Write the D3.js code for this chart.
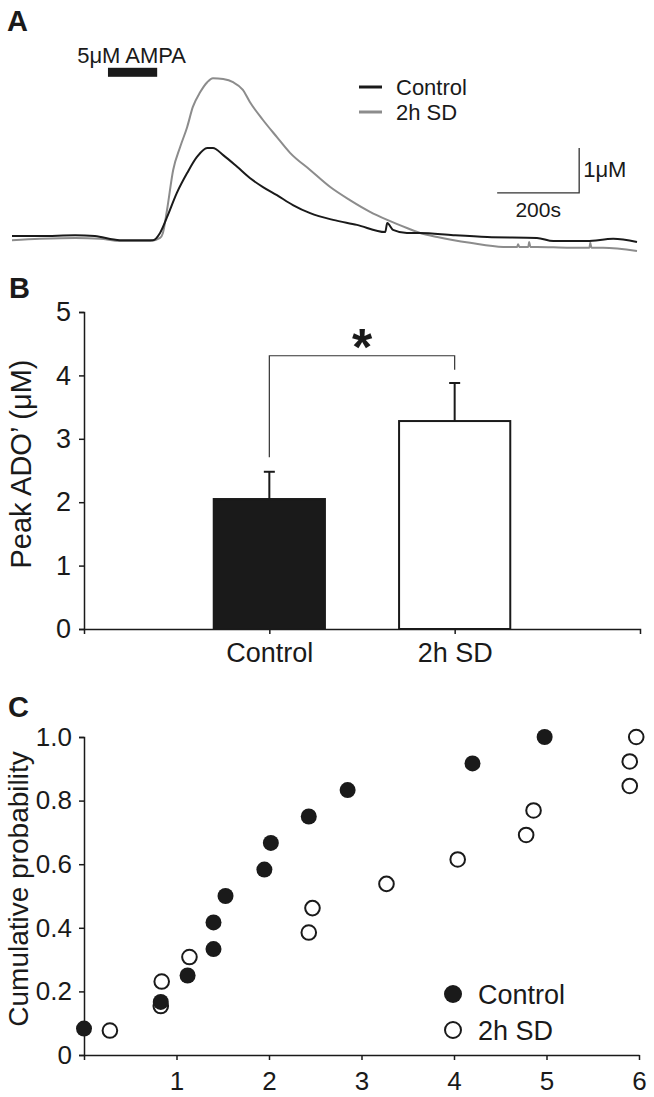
<!DOCTYPE html>
<html><head><meta charset="utf-8">
<script src="https://cdn.jsdelivr.net/npm/d3@7"></script>
<style>
body{margin:0;background:#fff}
svg{display:block}
text{font-family:"Liberation Sans",Arial,Helvetica,sans-serif;fill:#1a1a1a}
</style>
</head><body>
<svg id="chart" width="654" height="1097"></svg>
<script>
// ---------- Panel A: adenosine traces (time in s, concentration in uM) ----------
const controlTime  = [0,68,154,202,263,344,361,378,402,427,451,476,490,515,549,580,612,646,685,727,783,841,910,915,929,963,995,1076,1159,1280,1320,1402,1466,1524];
const controlTrace = [0.02,0.02,0.04,0.02,-0.07,-0.07,0.09,0.44,0.98,1.42,1.78,1.98,1.98,1.82,1.56,1.31,1.11,0.93,0.71,0.53,0.38,0.27,0.11,0.31,0.16,0.09,0.09,0.04,0,-0.02,-0.09,-0.09,-0.04,-0.11];
const sdTime  = [0,68,154,215,263,337,361,368,378,393,410,427,441,459,476,490,515,539,563,580,612,646,678,727,776,824,873,915,963,995,1037,1117,1198,1232,1234,1237,1259,1261,1264,1280,1361,1408,1410,1413,1441,1524];
const sdTrace = [-0.07,-0.04,-0.02,-0.04,-0.09,-0.09,-0.02,0.09,0.6,1.49,2.0,2.44,2.89,3.22,3.44,3.53,3.51,3.44,3.27,3.0,2.6,2.22,1.87,1.49,1.11,0.82,0.56,0.38,0.2,0.09,0,-0.13,-0.22,-0.22,-0.16,-0.22,-0.22,-0.11,-0.22,-0.22,-0.24,-0.24,-0.13,-0.24,-0.24,-0.31];
const ampaWindow = [234, 354];       // s
const ampaLevel = 3.66;              // uM (bar position)
const scaleBarTime = 200;            // s
const scaleBarConc = 1;              // uM
const scaleBarCorner = [1383, 0.98]; // (s, uM)
const traceNames = ["Control", "2h SD"];

// ---------- Panel B: bars ----------
const barCategories = ["Control", "2h SD"];
const barMeans = [2.05, 3.28];
const barErrors = [0.43, 0.60];
const barTicks = [0, 1, 2, 3, 4, 5];
const bracketLevel = 4.31;
const bracketEnds = [2.71, 4.09];

// ---------- Panel C: cumulative probability ----------
const ctrlX = [0, 0.83, 1.12, 1.40, 1.40, 1.53, 1.95, 2.02, 2.43, 2.85, 4.20, 4.98];
const ctrlP = [0.083, 0.167, 0.25, 0.333, 0.417, 0.5, 0.583, 0.667, 0.75, 0.833, 0.917, 1.0];
const sdX = [0.28, 0.83, 0.84, 1.14, 2.43, 2.47, 3.27, 4.04, 4.78, 4.86, 5.90, 5.90, 5.97];
const sdP = [0.077, 0.154, 0.231, 0.308, 0.385, 0.462, 0.538, 0.615, 0.692, 0.769, 0.846, 0.923, 1.0];
const cdfXTicks = [0, 1, 2, 3, 4, 5, 6];
const cdfYTicks = [0, 0.2, 0.4, 0.6, 0.8, 1.0];

const svg = d3.select("#chart");
const INK = "#1a1a1a", GRAY = "#8c8c8c";

function label(t, x, y) {
  svg.append("text").attr("x", x).attr("y", y).attr("font-size", 29).attr("font-weight", "bold").text(t);
}
label("A", 7, 31); label("B", 9, 298); label("C", 8, 717);

// ===== Panel A =====
const xA = d3.scaleLinear().domain([0, 1524]).range([12, 637]);
const yA = d3.scaleLinear().domain([0, 1]).range([237, 192]);
const lineA = d3.line().x(d => xA(d[0])).y(d => yA(d[1])).curve(d3.curveMonotoneX);
const gA = svg.append("g");
gA.append("path").datum(sdTime.map((t, i) => [t, sdTrace[i]]))
  .attr("d", lineA).attr("fill", "none").attr("stroke", GRAY).attr("stroke-width", 2);
gA.append("path").datum(controlTime.map((t, i) => [t, controlTrace[i]]))
  .attr("d", lineA).attr("fill", "none").attr("stroke", INK).attr("stroke-width", 2);
// AMPA bar
gA.append("rect").attr("x", xA(ampaWindow[0])).attr("width", xA(ampaWindow[1]) - xA(ampaWindow[0]))
  .attr("y", yA(ampaLevel) - 4.5).attr("height", 9).attr("fill", INK);
gA.append("text").attr("x", (xA(ampaWindow[0]) + xA(ampaWindow[1])) / 2 - 1).attr("y", 63)
  .attr("text-anchor", "middle").attr("font-size", 22).text("5\u03BCM AMPA");
// legend
[INK, GRAY].forEach((c, i) => {
  const y = 87 + i * 25;
  gA.append("line").attr("x1", 359).attr("x2", 382).attr("y1", y).attr("y2", y).attr("stroke", c).attr("stroke-width", 3);
  gA.append("text").attr("x", 396).attr("y", y + 8).attr("font-size", 22).text(traceNames[i]);
});
// scale bars
const cx = xA(scaleBarCorner[0]), cy = yA(scaleBarCorner[1]);
gA.append("path").attr("d", `M${xA(scaleBarCorner[0] - scaleBarTime)},${cy}H${cx}V${yA(scaleBarCorner[1] + scaleBarConc)}`)
  .attr("fill", "none").attr("stroke", "#333").attr("stroke-width", 1.3);
gA.append("text").attr("x", cx + 4).attr("y", 177).attr("font-size", 22).text("1\u03BCM");
gA.append("text").attr("x", (xA(scaleBarCorner[0] - scaleBarTime) + cx) / 2).attr("y", 217)
  .attr("text-anchor", "middle").attr("font-size", 21).text("200s");

// ===== Panel B =====
const xB = d3.scalePoint().domain(barCategories).range([84, 640]).padding(1);
const yB = d3.scaleLinear().domain([0, 5]).range([629, 312]);
const gB = svg.append("g");
const bw = xB.step() * 0.6;
barCategories.forEach((c, i) => {
  const x = xB(c);
  gB.append("line").attr("x1", x).attr("x2", x).attr("y1", yB(barMeans[i])).attr("y2", yB(barMeans[i] + barErrors[i]))
    .attr("stroke", INK).attr("stroke-width", 2);
  gB.append("line").attr("x1", x - 5.5).attr("x2", x + 5.5).attr("y1", yB(barMeans[i] + barErrors[i])).attr("y2", yB(barMeans[i] + barErrors[i]))
    .attr("stroke", INK).attr("stroke-width", 2);
  gB.append("rect").attr("x", x - bw / 2).attr("width", bw).attr("y", yB(barMeans[i])).attr("height", yB(0) - yB(barMeans[i]))
    .attr("fill", i === 0 ? INK : "#fff").attr("stroke", INK).attr("stroke-width", 2);
});
// significance bracket
gB.append("path").attr("d", `M${xB(barCategories[0])},${yB(bracketEnds[0])}V${yB(bracketLevel)}H${xB(barCategories[1])}V${yB(bracketEnds[1])}`)
  .attr("fill", "none").attr("stroke", "#333").attr("stroke-width", 1.2);
gB.append("text").attr("x", (xB(barCategories[0]) + xB(barCategories[1])) / 2).attr("y", 365)
  .attr("text-anchor", "middle").attr("font-size", 52).attr("font-weight", "bold").text("*");
// axes
const axYB = gB.append("g").attr("transform", "translate(84,0)")
  .call(d3.axisLeft(yB).tickValues(barTicks).tickSize(5).tickPadding(8).tickFormat(d3.format("d")));
const axXB = gB.append("g").attr("transform", "translate(0,629)")
  .call(d3.axisBottom(xB).tickSize(5).tickSizeOuter(5).tickPadding(9));
[axYB, axXB].forEach(a => {
  a.selectAll("path,line").attr("stroke", INK).attr("stroke-width", 1.5);
  a.selectAll("text").attr("font-size", 27).attr("fill", INK);
  a.attr("font-family", null);
});
svg.append("text").attr("transform", "translate(31,464) rotate(-90)").attr("text-anchor", "middle")
  .attr("font-size", 29).text("Peak ADO\u2019 (\u03BCM)");

// ===== Panel C =====
const xC = d3.scaleLinear().domain([0, 6]).range([84, 639]);
const yC = d3.scaleLinear().domain([0, 1]).range([1055, 737]);
const gC = svg.append("g");
const axYC = gC.append("g").attr("transform", "translate(84,0)")
  .call(d3.axisLeft(yC).tickValues(cdfYTicks).tickSize(5).tickPadding(7).tickFormat(d => d === 0 ? "0" : d3.format(".1f")(d)));
const axXC = gC.append("g").attr("transform", "translate(0,1055)")
  .call(d3.axisBottom(xC).tickValues(cdfXTicks).tickSize(5).tickSizeOuter(0).tickPadding(12).tickFormat(d => d === 0 ? "" : d));
[axYC, axXC].forEach(a => {
  a.selectAll("path,line").attr("stroke", INK).attr("stroke-width", 1.5);
  a.selectAll("text").attr("font-size", 26).attr("fill", INK);
  a.attr("font-family", null);
});
svg.append("text").attr("transform", "translate(28,889) rotate(-90)").attr("text-anchor", "middle")
  .attr("font-size", 28).text("Cumulative probability");
gC.selectAll("circle.sd").data(sdX.map((x, i) => [x, sdP[i]])).join("circle")
  .attr("cx", d => xC(d[0])).attr("cy", d => yC(d[1])).attr("r", 7.3)
  .attr("fill", "#fff").attr("stroke", INK).attr("stroke-width", 2);
gC.selectAll("circle.ctrl").data(ctrlX.map((x, i) => [x, ctrlP[i]])).join("circle")
  .attr("cx", d => xC(d[0])).attr("cy", d => yC(d[1])).attr("r", 8)
  .attr("fill", INK);
// legend
gC.append("circle").attr("cx", 453).attr("cy", 994).attr("r", 9).attr("fill", INK);
gC.append("circle").attr("cx", 453).attr("cy", 1030).attr("r", 8).attr("fill", "#fff").attr("stroke", INK).attr("stroke-width", 2);
gC.append("text").attr("x", 478).attr("y", 1004).attr("font-size", 27).text("Control");
gC.append("text").attr("x", 478).attr("y", 1040).attr("font-size", 27).text("2h SD");
</script>
</body></html>
